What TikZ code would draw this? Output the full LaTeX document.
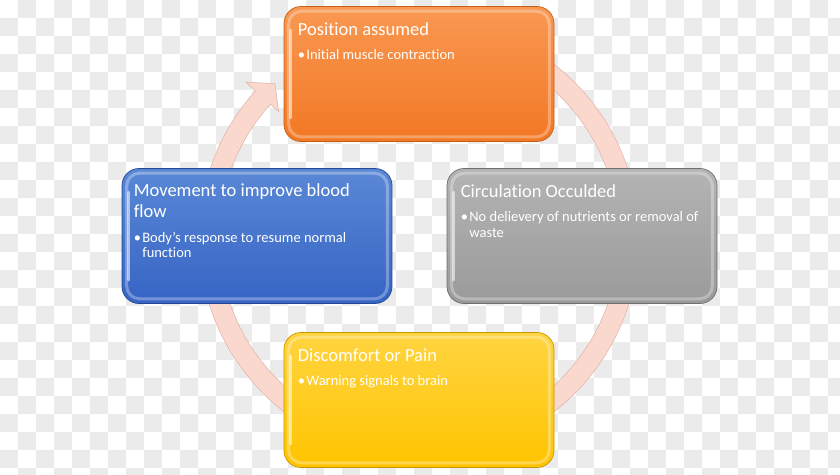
\documentclass[tikz,border=0pt]{standalone}
\usepackage{fontspec}
\setmainfont{Carlito}[Ligatures=NoCommon]
\usetikzlibrary{positioning}
\definecolor{cuadro}{RGB}{235,235,235}
\definecolor{anilloF}{RGB}{250,216,205}
\definecolor{anilloB}{RGB}{224,178,166}
\definecolor{naranjaA}{RGB}{249,152,82}
\definecolor{naranjaB}{RGB}{242,120,36}
\definecolor{naranjaC}{RGB}{196,96,24}
\definecolor{azulA}{RGB}{90,136,214}
\definecolor{azulB}{RGB}{54,100,196}
\definecolor{azulC}{RGB}{38,72,148}
\definecolor{grisA}{RGB}{180,180,180}
\definecolor{grisB}{RGB}{154,154,154}
\definecolor{grisC}{RGB}{110,110,110}
\definecolor{amarilloA}{RGB}{255,212,64}
\definecolor{amarilloB}{RGB}{255,196,0}
\definecolor{amarilloC}{RGB}{198,150,0}
\newcommand{\punto}{\makebox[8.5pt][l]{\textbullet}}

\begin{document}
\begin{tikzpicture}[x=1pt, y=-1pt]
    % Estilos de las cajas
    \tikzset{
        caja/.style={rectangle, rounded corners=17pt, minimum width=270pt, minimum height=135pt, line width=0.7pt},
        brillo/.style={rounded corners=13pt, draw=white, draw opacity=0.3, line width=3pt},
        luz/.style={white, opacity=0.55, line width=3pt, line cap=round},
        titulo/.style={anchor=base west, inner sep=0pt, text=white, font=\fontsize{18.5}{20.5}\selectfont, align=left},
        vineta/.style={anchor=base west, inner sep=0pt, text=white, font=\fontsize{14.5}{15.5}\selectfont, align=left}
    }
    \useasboundingbox (0,0) rectangle (840,474);

    % --- FONDO A CUADROS ---
    \fill[white] (0,0) rectangle (840,474);
    \begin{scope}
        \clip (0,0) rectangle (840,474);
        \foreach \i in {0,...,46}
            \foreach \j in {0,...,26}
                {\ifodd\numexpr\i+\j\relax \fill[cuadro] ({18*\i},{18*\j}) rectangle +(18,18);\fi}
    \end{scope}

    % --- ANILLO CON FLECHA ---
    \begin{scope}[shift={(419,238)}]
        \filldraw[fill=anilloF, draw=anilloB, line width=0.5pt]
            (-60:220) arc[start angle=-60, end angle=222, radius=220]
            -- (222:233) -- (227:211) -- (222:189) -- (222:200)
            arc[start angle=222, end angle=-60, radius=200] -- cycle;
    \end{scope}

    % --- POSITION ASSUMED ---
    \node[caja, top color=naranjaA, bottom color=naranjaB, draw=naranjaC] (posicion) at (419,74) {};
    \draw[brillo] ([shift={(5,5)}]posicion.north west) rectangle ([shift={(-5,-5)}]posicion.south east);
    \draw[luz] ([shift={(7,24)}]posicion.north west) -- ([shift={(7,-24)}]posicion.south west);
    \node[titulo] (posicionT) at ([shift={(14,29)}]posicion.north west) {Position assumed};
    \node[vineta] (posicionV) at ([shift={(14,53.5)}]posicion.north west) {\punto Initial muscle contraction};

    % --- CIRCULATION OCCULDED ---
    \node[caja, top color=grisA, bottom color=grisB, draw=grisC] (circulacion) at (582,236) {};
    \draw[brillo] ([shift={(5,5)}]circulacion.north west) rectangle ([shift={(-5,-5)}]circulacion.south east);
    \draw[luz] ([shift={(7,24)}]circulacion.north west) -- ([shift={(7,-24)}]circulacion.south west);
    \node[titulo] (circulacionT) at ([shift={(14,29)}]circulacion.north west) {Circulation Occulded};
    % la linea base es la de la ultima linea
    \node[vineta] (circulacionV) at ([shift={(14,69)}]circulacion.north west)
        {\punto No delievery of nutrients or removal of\\\hspace*{8.5pt}waste};

    % --- DISCOMFORT OR PAIN ---
    \node[caja, top color=amarilloA, bottom color=amarilloB, draw=amarilloC] (dolor) at (419,400) {};
    \draw[brillo] ([shift={(5,5)}]dolor.north west) rectangle ([shift={(-5,-5)}]dolor.south east);
    \draw[luz] ([shift={(7,24)}]dolor.north west) -- ([shift={(7,-24)}]dolor.south west);
    \node[titulo] (dolorT) at ([shift={(14,29)}]dolor.north west) {Discomfort or Pain};
    \node[vineta] (dolorV) at ([shift={(14,53.5)}]dolor.north west) {\punto Warning signals to brain};

    % --- MOVEMENT TO IMPROVE BLOOD FLOW ---
    \node[caja, top color=azulA, bottom color=azulB, draw=azulC] (movimiento) at (257,236) {};
    \draw[brillo] ([shift={(5,5)}]movimiento.north west) rectangle ([shift={(-5,-5)}]movimiento.south east);
    \draw[luz] ([shift={(7,24)}]movimiento.north west) -- ([shift={(7,-24)}]movimiento.south west);
    \node[titulo] (movimientoT) at ([shift={(12,49)}]movimiento.north west) {Movement to improve blood\\flow};
    \node[vineta] (movimientoV) at ([shift={(12,89.5)}]movimiento.north west)
        {\punto Body's response to resume normal\\\hspace*{8.5pt}function};
\end{tikzpicture}
\end{document}
